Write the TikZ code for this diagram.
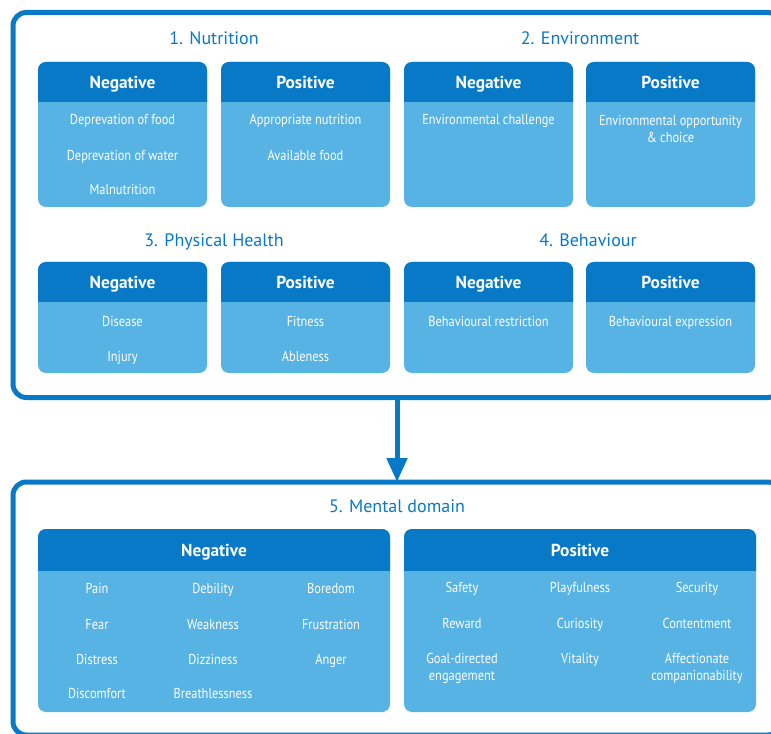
\documentclass[tikz,border=0pt]{standalone}
\usepackage{fontspec}
\setmainfont{PT Sans}
\newfontfamily\itemfont[FakeStretch=0.86]{PT Sans}
\usetikzlibrary{arrows.meta}
\definecolor{frameblue}{RGB}{8,121,199}
\definecolor{bodyblue}{RGB}{88,179,229}

\begin{document}
\begin{tikzpicture}[x=0.75pt,y=0.75pt,yscale=-1,xscale=1,
  frame/.style={draw=frameblue, line width=3.75pt, rounded corners=10pt, inner sep=0pt, outer sep=0pt, minimum width=576pt},
  body/.style={fill=bodyblue, rounded corners=6pt},
  head/.style={fill=frameblue, rounded corners=6pt},
  title/.style={text=frameblue, font=\fontsize{13.5}{16}\selectfont, inner sep=0.75pt, anchor=base},
  headtext/.style={text=white, font=\bfseries\fontsize{13}{15}\selectfont, inner sep=0.75pt, anchor=base},
  item/.style={text=white, font=\itemfont\fontsize{10.8}{12.8}\selectfont, align=center, inner sep=0.75pt, anchor=base},
  twoline/.style={item, anchor=center},
  link/.style={draw=frameblue, line width=3.75pt, -{Triangle[width=15pt,length=18pt]}}]
\useasboundingbox (0,0) rectangle (771,734);
\clip (0,0) rectangle (771,734);

%Shape: Frames
\node[frame, minimum height=288.75pt] (upper) at (397,205) {};
\node[frame, minimum height=189.75pt] (lower) at (397,608.5) {};
%Straight Lines
\draw[link] (upper.south) -- (lower.north);

% Text Node
\node[title] (nuttitle) at (214,45) {1. Nutrition};
\node[title] (envtitle) at (580,45) {2. Environment};
\node[title] (phytitle) at (214,247) {3. Physical Health};
\node[title] (behtitle) at (588,247) {4. Behaviour};
\node[title] (menttitle) at (397,512) {5. Mental domain};

%Shape: Rounded Rect (row 1)
\fill[body] (38,62) rectangle (207,207);
\begin{scope}\clip (38,62) rectangle (207,102); \fill[head] (38,62) rectangle (207,207); \end{scope}
\fill[body] (221,62) rectangle (390,207);
\begin{scope}\clip (221,62) rectangle (390,102); \fill[head] (221,62) rectangle (390,207); \end{scope}
\fill[body] (404,62) rectangle (573,207);
\begin{scope}\clip (404,62) rectangle (573,102); \fill[head] (404,62) rectangle (573,207); \end{scope}
\fill[body] (586,62) rectangle (755,207);
\begin{scope}\clip (586,62) rectangle (755,102); \fill[head] (586,62) rectangle (755,207); \end{scope}

%Shape: Rounded Rect (row 2)
\fill[body] (38,262) rectangle (207,373);
\begin{scope}\clip (38,262) rectangle (207,302); \fill[head] (38,262) rectangle (207,373); \end{scope}
\fill[body] (221,262) rectangle (390,373);
\begin{scope}\clip (221,262) rectangle (390,302); \fill[head] (221,262) rectangle (390,373); \end{scope}
\fill[body] (404,262) rectangle (573,373);
\begin{scope}\clip (404,262) rectangle (573,302); \fill[head] (404,262) rectangle (573,373); \end{scope}
\fill[body] (586,262) rectangle (755,373);
\begin{scope}\clip (586,262) rectangle (755,302); \fill[head] (586,262) rectangle (755,373); \end{scope}

%Shape: Rounded Rect (mental domain)
\fill[body] (38,529) rectangle (390,712);
\begin{scope}\clip (38,529) rectangle (390,570); \fill[head] (38,529) rectangle (390,712); \end{scope}
\fill[body] (404,529) rectangle (756,712);
\begin{scope}\clip (404,529) rectangle (756,570); \fill[head] (404,529) rectangle (756,712); \end{scope}

% Text Node
\node[headtext] (nutneg) at (122.5,89) {Negative};
\node[headtext] (nutpos) at (305.5,89) {Positive};
\node[headtext] (envneg) at (488.5,89) {Negative};
\node[headtext] (envpos) at (670.5,89) {Positive};
\node[headtext] (phyneg) at (122.5,289) {Negative};
\node[headtext] (phypos) at (305.5,289) {Positive};
\node[headtext] (behneg) at (488.5,289) {Negative};
\node[headtext] (behpos) at (670.5,289) {Positive};
\node[headtext] (mentneg) at (214,556.5) {Negative};
\node[headtext] (mentpos) at (580,556.5) {Positive};

% Text Node
\node[item] (nutneg1) at (122.5,125) {Deprevation of food};
\node[item] (nutneg2) at (122.5,161) {Deprevation of water};
\node[item] (nutneg3) at (122.5,195) {Malnutrition};
\node[item] (nutpos1) at (305.5,125) {Appropriate nutrition};
\node[item] (nutpos2) at (305.5,161) {Available food};
\node[item] (envneg1) at (488.5,125) {Environmental challenge};
\node[twoline] (envpos1) at (670.5,129) {Environmental opportunity\\\& choice};
\node[item] (phyneg1) at (122.5,326) {Disease};
\node[item] (phyneg2) at (122.5,361) {Injury};
\node[item] (phypos1) at (305.5,326) {Fitness};
\node[item] (phypos2) at (305.5,361) {Ableness};
\node[item] (behneg1) at (488.5,326) {Behavioural restriction};
\node[item] (behpos1) at (670.5,326) {Behavioural expression};

% Text Node
\node[item] (mentneg1) at (97,593.5) {Pain};
\node[item] (mentneg2) at (213,593.5) {Debility};
\node[item] (mentneg3) at (331,593.5) {Boredom};
\node[item] (mentneg4) at (97,629.5) {Fear};
\node[item] (mentneg5) at (213,629.5) {Weakness};
\node[item] (mentneg6) at (331,629.5) {Frustration};
\node[item] (mentneg7) at (97,664.5) {Distress};
\node[item] (mentneg8) at (213,664.5) {Dizziness};
\node[item] (mentneg9) at (331,664.5) {Anger};
\node[item] (mentneg10) at (97,698.5) {Discomfort};
\node[item] (mentneg11) at (213,698.5) {Breathlessness};
\node[item] (mentpos1) at (462,592.5) {Safety};
\node[item] (mentpos2) at (580,592.5) {Playfulness};
\node[item] (mentpos3) at (697,592.5) {Security};
\node[item] (mentpos4) at (462,628.5) {Reward};
\node[item] (mentpos5) at (580,628.5) {Curiosity};
\node[item] (mentpos6) at (697,628.5) {Contentment};
\node[twoline] (mentpos7) at (462,668.5) {Goal-directed\\engagement};
\node[item] (mentpos8) at (580,663.5) {Vitality};
\node[twoline] (mentpos9) at (697,668.5) {Affectionate\\companionability};

\end{tikzpicture}
\end{document}
